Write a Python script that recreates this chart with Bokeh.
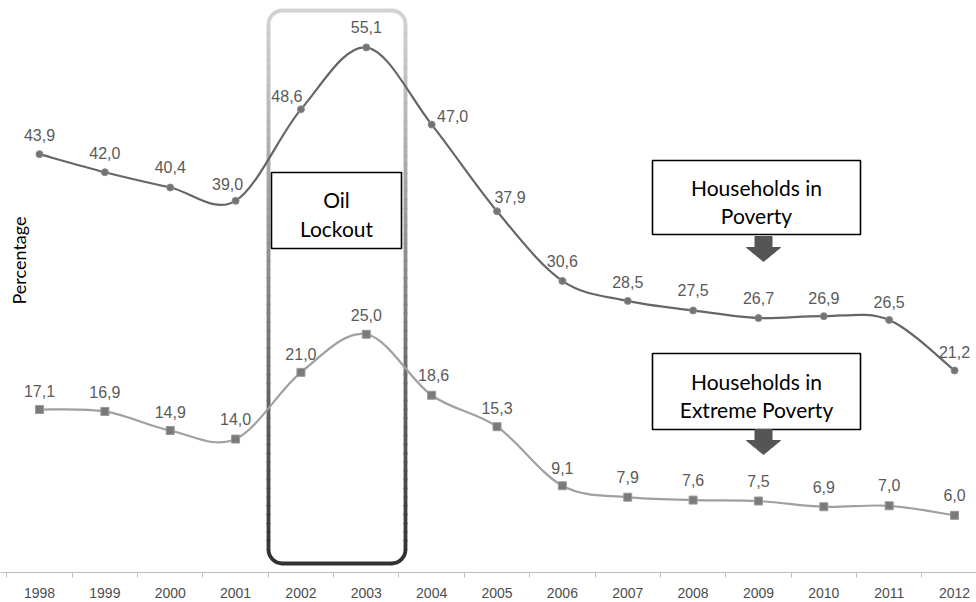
import numpy as np
from bokeh.plotting import figure
from bokeh.models import FixedTicker, Range1d, ColumnDataSource, Label
from bokeh.core.properties import value
from bokeh.embed import file_html
from bokeh.resources import INLINE

# ---------------- data ----------------
years = [1998, 1999, 2000, 2001, 2002, 2003, 2004, 2005, 2006, 2007, 2008, 2009, 2010, 2011, 2012]
year_labels = [str(y) for y in years]
poverty = [43.9, 42.0, 40.4, 39.0, 48.6, 55.1, 47.0, 37.9, 30.6, 28.5, 27.5, 26.7, 26.9, 26.5, 21.2]
extreme = [17.1, 16.9, 14.9, 14.0, 21.0, 25.0, 18.6, 15.3, 9.1, 7.9, 7.6, 7.5, 6.9, 7.0, 6.0]
poverty_text = [f"{v:.1f}".replace(".", ",") for v in poverty]
extreme_text = [f"{v:.1f}".replace(".", ",") for v in extreme]

# ---------------- layout / style ----------------
W, H = 976, 602
BOTTOM = 30
PX_YEAR = 65.36      # pixels per year
PX_UNIT = 9.53       # pixels per percentage point
IMG_X0 = 39          # x of first year
IMG_ZERO = 572       # y of value 0


def dx(px):
    return years[0] + (px - IMG_X0) / PX_YEAR


def dy(py):
    return (IMG_ZERO - py) / PX_UNIT


x_range = Range1d(dx(0), dx(W))
y_range = Range1d(dy(H - BOTTOM), dy(0))

p = figure(width=W, height=H, x_range=x_range, y_range=y_range,
           output_backend="svg", toolbar_location=None, y_axis_location=None,
           min_border_left=0, min_border_right=0, min_border_top=0,
           min_border_bottom=BOTTOM, background_fill_color="white",
           border_fill_color="white")
p.outline_line_color = None
p.xgrid.visible = False
p.ygrid.visible = False

ax = p.xaxis[0]
ax.ticker = FixedTicker(ticks=years, minor_ticks=[y - 0.5 for y in years] + [years[-1] + 0.5])
ax.major_label_overrides = {y: l for y, l in zip(years, year_labels)}
ax.major_tick_out = 0
ax.major_tick_in = 0
ax.minor_tick_out = 5
ax.minor_tick_in = 0
ax.minor_tick_line_color = "#bdbdbd"
ax.axis_line_color = "#bdbdbd"
ax.major_label_standoff = 10
ax.major_label_text_font = "Liberation Sans"
ax.major_label_text_font_size = "14px"
ax.major_label_text_color = "#4d4d4d"


# ---------------- oil lockout rounded frame (gradient) ----------------
def shade(py):
    t = min(max((py - 10) / 553.0, 0.0), 1.0) ** 1.1
    c0, c1 = np.array([210, 210, 210]), np.array([50, 50, 50])
    c = (c0 + (c1 - c0) * t).astype(int)
    return "#%02x%02x%02x" % tuple(c)


L_px, R_px, T_px, B_px, RAD = 268, 405, 10, 563, 14
N = 60
edges = np.linspace(T_px + RAD, B_px - RAD, N + 1)
seg_x0, seg_y0, seg_x1, seg_y1, seg_c = [], [], [], [], []
for sx in (L_px, R_px):
    for a, b in zip(edges[:-1], edges[1:]):
        seg_x0.append(dx(sx)); seg_x1.append(dx(sx))
        seg_y0.append(dy(a)); seg_y1.append(dy(b))
        seg_c.append(shade((a + b) / 2))
for sy in (T_px, B_px):
    seg_x0.append(dx(L_px + RAD)); seg_x1.append(dx(R_px - RAD))
    seg_y0.append(dy(sy)); seg_y1.append(dy(sy))
    seg_c.append(shade(sy))
p.segment(x0=seg_x0, y0=seg_y0, x1=seg_x1, y1=seg_y1, line_color=seg_c,
          line_width=3.8, line_cap="round")
arc_x = [dx(L_px + RAD), dx(R_px - RAD), dx(L_px + RAD), dx(R_px - RAD)]
arc_y = [dy(T_px + RAD), dy(T_px + RAD), dy(B_px - RAD), dy(B_px - RAD)]
arc_s = [np.pi / 2, 0, np.pi, 1.5 * np.pi]
arc_e = [np.pi, np.pi / 2, 1.5 * np.pi, 2 * np.pi]
arc_c = [shade(T_px), shade(T_px), shade(B_px), shade(B_px)]
p.arc(x=arc_x, y=arc_y, radius=RAD, radius_units="screen", start_angle=arc_s,
      end_angle=arc_e, line_color=arc_c, line_width=3.8)


# ---------------- smooth lines ----------------
def bezier_source(xs, ys):
    n = len(xs)
    d = dict(x0=[], y0=[], x1=[], y1=[], cx0=[], cy0=[], cx1=[], cy1=[])
    for i in range(n - 1):
        a, b, c, e = max(i - 1, 0), i, i + 1, min(i + 2, n - 1)
        d["x0"].append(xs[b]); d["y0"].append(ys[b])
        d["x1"].append(xs[c]); d["y1"].append(ys[c])
        d["cx0"].append(xs[b] + (xs[c] - xs[a]) / 6.0)
        d["cy0"].append(ys[b] + (ys[c] - ys[a]) / 6.0)
        d["cx1"].append(xs[c] - (xs[e] - xs[b]) / 6.0)
        d["cy1"].append(ys[c] - (ys[e] - ys[b]) / 6.0)
    return ColumnDataSource(d)


POV_COLOR = "#666666"
EXT_COLOR = "#a0a0a0"
p.bezier(x0="x0", y0="y0", x1="x1", y1="y1", cx0="cx0", cy0="cy0", cx1="cx1", cy1="cy1",
         source=bezier_source(years, poverty), line_color=POV_COLOR, line_width=2.2)
p.bezier(x0="x0", y0="y0", x1="x1", y1="y1", cx0="cx0", cy0="cy0", cx1="cx1", cy1="cy1",
         source=bezier_source(years, extreme), line_color=EXT_COLOR, line_width=2.2)

pov_dx = [0, 0, 0, -8, -14, 0, 21, 13, 0, 0, 0, 0, 0, 0, 0]
pov_dy = [-19, -19, -20, -17, -13, -20, -9, -14, -20, -19, -20, -20, -18, -18, -18]
ext_dx = [0, 0, 0, 0, 0, 0, 2, 0, 0, 0, 0, 0, 0, 0, 0]
ext_dy = [-19, -19, -19, -20, -18, -19, -20, -19, -18, -20, -20, -20, -20, -21, -20]

src_p = ColumnDataSource(dict(x=years, y=poverty, t=poverty_text, ox=pov_dx, oy=pov_dy))
src_e = ColumnDataSource(dict(x=years, y=extreme, t=extreme_text, ox=ext_dx, oy=ext_dy))

p.scatter("x", "y", source=src_p, marker="circle", size=7, fill_color="#737373",
          line_color="#8a8a8a", line_width=1)
p.scatter("x", "y", source=src_e, marker="square", size=8, fill_color="#7a7a7a",
          line_color="#9a9a9a", line_width=1)

for src in (src_p, src_e):
    p.text("x", "y", text="t", source=src, x_offset="ox", y_offset="oy",
           text_align="center", text_baseline="middle",
           text_font=value("Liberation Sans"), text_font_size="16px",
           text_color="#5a5a5a")

# ---------------- annotation boxes ----------------
boxes = [(271, 401, 172, 248), (652, 860, 160, 234), (652, 860, 353, 429)]
p.quad(left=[dx(b[0]) for b in boxes], right=[dx(b[1]) for b in boxes],
       top=[dy(b[2]) for b in boxes], bottom=[dy(b[3]) for b in boxes],
       fill_color="white", line_color="black", line_width=1.6)

box_texts = [("Oil", 336, 199), ("Lockout", 336, 228),
             ("Households in", 756, 187), ("Poverty", 756, 215),
             ("Households in", 756, 381), ("Extreme Poverty", 756, 409)]
for txt, tx, ty in box_texts:
    p.add_layout(Label(x=dx(tx), y=dy(ty), text=txt, text_align="center",
                       text_baseline="middle", text_font="Lato",
                       text_font_size="21px", text_color="black"))

# block arrows
for top_px in (236, 429):
    cx = 763
    shaft_end = top_px + 11
    tip = shaft_end + 14
    ax_px = [cx - 8.5, cx + 8.5, cx + 8.5, cx + 17, cx, cx - 17, cx - 8.5]
    ay_px = [top_px, top_px, shaft_end, shaft_end, tip, shaft_end, shaft_end]
    p.patch([dx(v) for v in ax_px], [dy(v) for v in ay_px], fill_color="#555555",
            line_color="#555555", line_width=1)

p.add_layout(Label(x=dx(18), y=dy(260), text="Percentage", angle=np.pi / 2,
                   text_align="center", text_baseline="middle", text_font="Lato",
                   text_font_size="18px", text_color="black"))

open("out.html", "w").write(file_html(p, INLINE))
